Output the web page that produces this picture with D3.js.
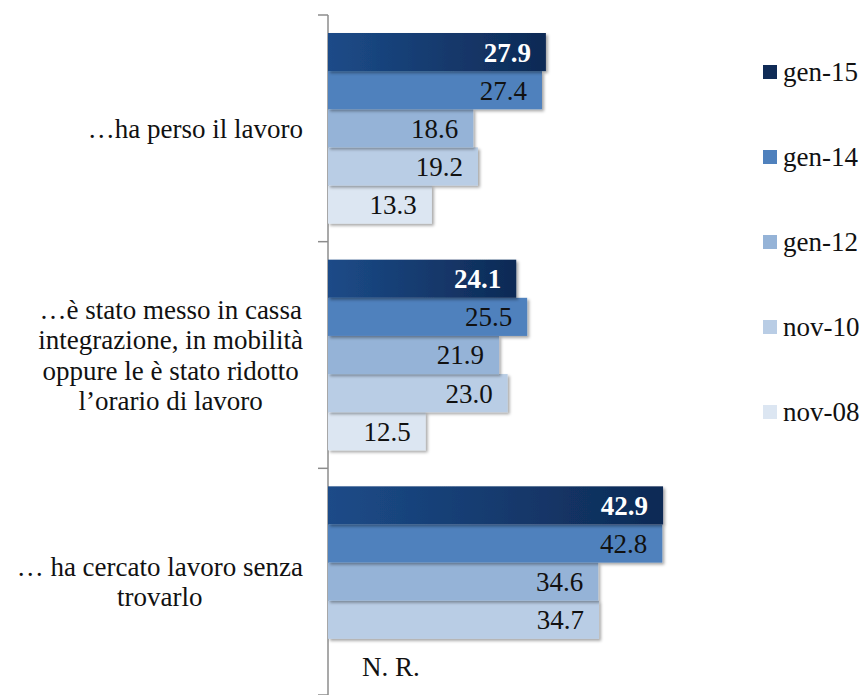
<!DOCTYPE html>
<html>
<head>
<meta charset="utf-8">
<script src="https://cdn.jsdelivr.net/npm/d3@7"></script>
<style>
  body { margin: 0; background: #fff; }
</style>
</head>
<body>
<div id="chart"></div>
<script>
var categories = [
  ["…ha perso il lavoro"],
  ["…è stato messo in cassa", "integrazione, in mobilità", "oppure le è stato ridotto", "l’orario di lavoro"],
  ["… ha cercato lavoro senza", "trovarlo"]
];
var series = ["gen-15", "gen-14", "gen-12", "nov-10", "nov-08"];
var colors = ["#143c72", "#4f81bd", "#95b3d7", "#b9cde5", "#dce6f2"];
// rows = categories, columns = series (null = N. R.)
var values = [
  [27.9, 27.4, 18.6, 19.2, 13.3],
  [24.1, 25.5, 21.9, 23.0, 12.5],
  [42.9, 42.8, 34.6, 34.7, null]
];

var width = 863, height = 695;
var fontSize = 27;
var serif = "'Liberation Serif', 'DejaVu Serif', 'Times New Roman', serif";

var svg = d3.select("#chart").append("svg")
    .attr("width", width)
    .attr("height", height)
    .attr("font-family", serif)
    .style("font-family", serif);

var defs = svg.append("defs");
var grad = defs.append("linearGradient").attr("id", "darkGrad")
    .attr("x1", "0%").attr("x2", "100%").attr("y1", "0%").attr("y2", "0%");
grad.append("stop").attr("offset", "0%").attr("stop-color", "#1c4b88");
grad.append("stop").attr("offset", "100%").attr("stop-color", "#0e2a55");

var shadow = defs.append("filter").attr("id", "shadow")
    .attr("x", "-5%").attr("y", "-20%").attr("width", "115%").attr("height", "150%");
shadow.append("feDropShadow")
    .attr("dx", 2).attr("dy", 2).attr("stdDeviation", 1.5)
    .attr("flood-color", "#000").attr("flood-opacity", 0.35);

var idx = d3.range(categories.length);

var yScale = d3.scaleBand()
    .domain(idx)
    .range([15, 695])
    .padding(0);

var inner = d3.scaleBand()
    .domain(series)
    .range([18, yScale.bandwidth() - 18])
    .padding(0);

var xScale = d3.scaleLinear()
    .domain([0, 50])
    .range([328, 718.5]);

// axis line + tick marks at band boundaries
var axisG = svg.append("g")
    .attr("transform", "translate(328,0)");
axisG.append("line")
    .attr("x1", 0).attr("x2", 0)
    .attr("y1", 15).attr("y2", 695)
    .attr("stroke", "#8c8c8c").attr("stroke-width", 1.5);
axisG.selectAll(".tk")
    .data(d3.range(categories.length + 1))
    .enter().append("line")
    .attr("x1", -10).attr("x2", 0)
    .attr("y1", function(d){ return 15 + d * yScale.step(); })
    .attr("y2", function(d){ return 15 + d * yScale.step(); })
    .attr("stroke", "#8c8c8c").attr("stroke-width", 1.5);

// bars
var groups = svg.selectAll(".grp")
    .data(idx)
    .enter().append("g")
    .attr("class", "grp")
    .attr("transform", function(d){ return "translate(0," + yScale(d) + ")"; });

groups.each(function(ci){
    var g = d3.select(this);
    var rows = series.map(function(s, si){ return { s: s, si: si, v: values[ci][si] }; });
    var real = rows.filter(function(r){ return r.v !== null; });
    // drawn bottom-up so each bar's shadow falls on the one below
    g.selectAll("rect")
        .data(real.slice().reverse())
        .enter().append("rect")
        .attr("x", xScale(0))
        .attr("y", function(r){ return inner(r.s); })
        .attr("width", function(r){ return xScale(r.v) - xScale(0); })
        .attr("height", inner.bandwidth())
        .attr("fill", function(r){ return r.si === 0 ? "url(#darkGrad)" : colors[r.si]; })
        .attr("filter", "url(#shadow)");

    g.selectAll("text.val")
        .data(rows)
        .enter().append("text")
        .attr("class", "val")
        .attr("x", function(r){ return r.v === null ? xScale(0) + 34 : xScale(r.v) - 15; })
        .attr("y", function(r){ return inner(r.s) + inner.bandwidth() / 2 + (r.v === null ? 9 : 0); })
        .attr("dy", "0.35em")
        .attr("text-anchor", function(r){ return r.v === null ? "start" : "end"; })
        .attr("font-size", fontSize)
        .attr("font-weight", function(r){ return r.si === 0 ? "bold" : "normal"; })
        .attr("fill", function(r){ return r.si === 0 ? "#fff" : "#111"; })
        .text(function(r){ return r.v === null ? "N. R." : r.v.toFixed(1); });
});

// category labels: block right-aligned at x=303, lines centered within block
var lineH = 30.3;
idx.forEach(function(ci){
    var lines = categories[ci];
    var cy = yScale(ci) + yScale.bandwidth() / 2;
    var texts = svg.append("g").selectAll("text")
        .data(lines)
        .enter().append("text")
        .attr("font-size", fontSize)
        .attr("fill", "#111")
        .attr("text-anchor", "middle")
        .attr("y", function(d, i){ return cy + (i - (lines.length - 1) / 2) * lineH; })
        .attr("dy", "0.35em")
        .text(function(d){ return d; });
    var maxW = 0;
    texts.each(function(){ maxW = Math.max(maxW, this.getComputedTextLength()); });
    texts.attr("x", 303 - maxW / 2);
});

// legend
var legend = svg.selectAll(".leg")
    .data(series)
    .enter().append("g")
    .attr("class", "leg")
    .attr("transform", function(d, i){ return "translate(763," + (72 + i * 85) + ")"; });
legend.append("rect")
    .attr("x", 0).attr("y", -7)
    .attr("width", 14).attr("height", 14)
    .attr("fill", function(d, i){ return i === 0 ? "#0f2b56" : colors[i]; });
legend.append("text")
    .attr("x", 20)
    .attr("dy", "0.35em")
    .attr("font-size", fontSize)
    .attr("fill", "#111")
    .text(function(d){ return d; });
</script>
</body>
</html>
